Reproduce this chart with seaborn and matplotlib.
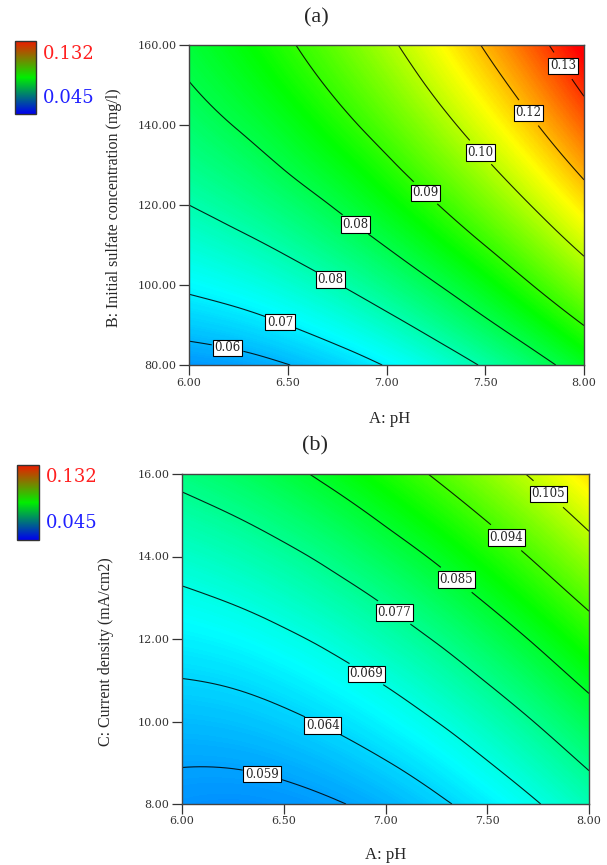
import matplotlib
matplotlib.use('Agg')
import matplotlib.pyplot as plt
import matplotlib.tri as mtri
from matplotlib.colors import Normalize
from matplotlib.cm import ScalarMappable
import seaborn as sns
import numpy as np

# axes values
ph = [6.00, 6.25, 6.50, 6.75, 7.00, 7.25, 7.50, 7.75, 8.00]
sulfate = [80, 90, 100, 110, 120, 130, 140, 150, 160]
current = [8, 9, 10, 11, 12, 13, 14, 15, 16]

# response: rows = sulfate, cols = pH
removal_a = [
    [0.0579, 0.0588, 0.0605, 0.0628, 0.0659, 0.0697, 0.0743, 0.0795, 0.0855],
    [0.0624, 0.0636, 0.0656, 0.0683, 0.0717, 0.0759, 0.0808, 0.0864, 0.0927],
    [0.0665, 0.0681, 0.0704, 0.0734, 0.0772, 0.0817, 0.0869, 0.0929, 0.0995],
    [0.0702, 0.0722, 0.0748, 0.0782, 0.0823, 0.0872, 0.0927, 0.0990, 0.1060],
    [0.0736, 0.0759, 0.0789, 0.0826, 0.0871, 0.0923, 0.0982, 0.1048, 0.1122],
    [0.0767, 0.0793, 0.0827, 0.0867, 0.0915, 0.0971, 0.1033, 0.1103, 0.1180],
    [0.0794, 0.0824, 0.0860, 0.0905, 0.0956, 0.1015, 0.1081, 0.1154, 0.1234],
    [0.0818, 0.0851, 0.0891, 0.0939, 0.0993, 0.1056, 0.1125, 0.1201, 0.1285],
    [0.0838, 0.0874, 0.0918, 0.0969, 0.1027, 0.1093, 0.1166, 0.1246, 0.1333],
]
levels_a = [0.0606, 0.0656, 0.0736, 0.0820, 0.0926, 0.1042, 0.1159, 0.1271]
texts_a = ["0.06", "0.07", "0.08", "0.08", "0.09", "0.10", "0.12", "0.13"]

# response: rows = current density, cols = pH
removal_b = [
    [0.0576, 0.0573, 0.0577, 0.0587, 0.0603, 0.0626, 0.0654, 0.0689, 0.0730],
    [0.0592, 0.0593, 0.0600, 0.0613, 0.0632, 0.0657, 0.0689, 0.0727, 0.0771],
    [0.0611, 0.0615, 0.0625, 0.0641, 0.0663, 0.0691, 0.0726, 0.0767, 0.0814],
    [0.0633, 0.0639, 0.0652, 0.0671, 0.0696, 0.0728, 0.0766, 0.0810, 0.0860],
    [0.0657, 0.0666, 0.0682, 0.0704, 0.0733, 0.0767, 0.0808, 0.0855, 0.0908],
    [0.0683, 0.0696, 0.0715, 0.0740, 0.0771, 0.0809, 0.0853, 0.0903, 0.0959],
    [0.0712, 0.0728, 0.0750, 0.0778, 0.0813, 0.0853, 0.0900, 0.0953, 0.1013],
    [0.0744, 0.0763, 0.0788, 0.0819, 0.0857, 0.0900, 0.0950, 0.1006, 0.1069],
    [0.0778, 0.0800, 0.0828, 0.0863, 0.0903, 0.0950, 0.1003, 0.1062, 0.1127],
]
levels_b = [0.0590, 0.0634, 0.0691, 0.0763, 0.0845, 0.0942, 0.1047]
texts_b = ["0.059", "0.064", "0.069", "0.077", "0.085", "0.094", "0.105"]

# where the contour labels sit
spots_a = [(6.20, 85.4), (6.47, 91.7), (6.72, 101.7), (6.85, 115.6),
           (7.21, 123.7), (7.49, 133.8), (7.74, 143.8), (7.92, 155.7)]
spots_b = [(6.40, 8.85), (6.70, 9.98), (6.91, 11.18), (7.05, 12.69),
           (7.35, 13.45), (7.60, 14.50), (7.81, 15.57)]

resp_min, resp_max = 0.045, 0.132

sns.set_style('ticks')
plt.rcParams['font.family'] = ['DejaVu Serif']
times = 'Liberation Serif'

surf_cmap = sns.blend_palette(['#0000ff', '#00ffff', '#00ff00', '#ffff00', '#ff0000'], as_cmap=True)
key_cmap = sns.blend_palette(['#0000ee', '#00ee00', '#ee1a00'], as_cmap=True)
norm = Normalize(resp_min, resp_max)

fig = plt.figure(figsize=(6.07, 8.65), dpi=100)


def draw_panel(rect, yvals, z, levels, texts, spots, yticks, ylabel, ylab_xy, xlab_xy,
               title, title_xy, key_rect, key_txt_x, key_txt_y):
    ax = fig.add_axes(rect)
    # smooth surface from the read grid (cubic refinement by matplotlib.tri)
    # y is rescaled to the pH span so the triangulation is well conditioned
    ys = (np.array(yvals) - yvals[0]) / (yvals[-1] - yvals[0]) * 2 + 6
    gx, gy = np.meshgrid(ph, ys)
    tri = mtri.Triangulation(gx.ravel(), gy.ravel())
    refiner = mtri.UniformTriRefiner(tri)
    tri_f, z_f = refiner.refine_field(np.array(z).ravel(), subdiv=3)
    yf = (tri_f.y - 6) / 2 * (yvals[-1] - yvals[0]) + yvals[0]
    tri_f = mtri.Triangulation(tri_f.x, yf, tri_f.triangles)
    ax.tricontourf(tri_f, z_f, levels=np.linspace(0.040, 0.140, 400), cmap=surf_cmap,
                   norm=norm, extend='both', antialiased=False)
    cs = ax.tricontour(tri_f, z_f, levels=levels, colors='k', linewidths=0.8, alpha=0.85)
    lbls = ax.clabel(cs, levels, fmt=dict(zip(cs.levels, texts)), manual=spots,
                     inline=True, inline_spacing=3, fontsize=8.5)
    for t in lbls:
        t.set_bbox(dict(boxstyle='square,pad=0.15', fc='white', ec='black', lw=0.8))
        t.set_rotation(0)
    ax.set_xlim(6, 8)
    ax.set_ylim(yvals[0], yvals[-1])
    ax.set_xticks([6, 6.5, 7, 7.5, 8])
    ax.set_xticklabels(['%.2f' % v for v in [6, 6.5, 7, 7.5, 8]])
    ax.set_yticks(yticks)
    ax.set_yticklabels(['%.2f' % v for v in yticks])
    ax.tick_params(direction='out', length=7, width=0.9, labelsize=8, pad=2, colors='#333333')
    for s in ax.spines.values():
        s.set_color('#444444')
        s.set_linewidth(1.0)
    fig.text(ylab_xy[0], ylab_xy[1], ylabel, rotation=90, ha='center', va='center',
             fontsize=11.5, family=times)
    fig.text(xlab_xy[0], xlab_xy[1], 'A: pH', ha='center', va='center', fontsize=12, family=times)
    fig.text(title_xy[0], title_xy[1], title, ha='center', va='center', fontsize=16, family=times)
    # colour key on the left
    cax = fig.add_axes(key_rect)
    cb = fig.colorbar(ScalarMappable(norm=norm, cmap=key_cmap), cax=cax)
    cb.set_ticks([])
    cb.outline.set_edgecolor('#333333')
    cb.outline.set_linewidth(1.0)
    fig.text(key_txt_x, key_txt_y[0], '0.132', color='#ff2020', fontsize=13, va='center')
    fig.text(key_txt_x, key_txt_y[1], '0.045', color='#2020ff', fontsize=13, va='center')
    return ax


draw_panel([189 / 607, 1 - 365 / 865, 395 / 607, 320 / 865], sulfate, removal_a, levels_a, texts_a,
           spots_a, [80, 100, 120, 140, 160], 'B: Initial sulfate concentration (mg/l)',
           (114 / 607, 1 - 208 / 865), (390 / 607, 1 - 419 / 865), '(a)', (316 / 607, 1 - 18 / 865),
           [15 / 607, 1 - 114 / 865, 21 / 607, 73 / 865], 43 / 607,
           (1 - 54 / 865, 1 - 98 / 865))

draw_panel([182 / 607, 1 - 804 / 865, 407 / 607, 330 / 865], current, removal_b, levels_b, texts_b,
           spots_b, [8, 10, 12, 14, 16], 'C: Current density (mA/cm2)',
           (106 / 607, 1 - 652 / 865), (386 / 607, 1 - 855 / 865), '(b)', (315 / 607, 1 - 446 / 865),
           [17 / 607, 1 - 540 / 865, 22 / 607, 75 / 865], 46 / 607,
           (1 - 477 / 865, 1 - 523 / 865))

fig.savefig('out.png', dpi=100)
